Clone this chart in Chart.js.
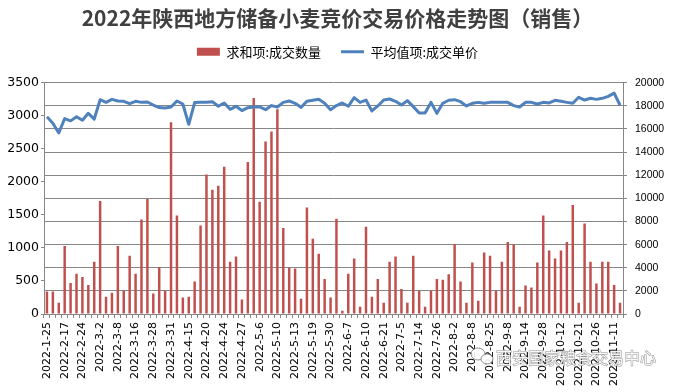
<!DOCTYPE html>
<html>
<head>
<meta charset="utf-8">
<script src="https://cdn.jsdelivr.net/npm/chart.js@4.4.1/dist/chart.umd.min.js"></script>
<style>
  html, body { margin: 0; padding: 0; background: #fff; }
</style>
</head>
<body>
<canvas id="grafico" width="675" height="392"></canvas>
<script>
// Labels visible on the x axis (one every 3 trading days)
const tickLabels = ["2022-1-25", "2022-2-17", "2022-2-24", "2022-3-2", "2022-3-8", "2022-3-16", "2022-3-28",
    "2022-3-31", "2022-4-15", "2022-4-20", "2022-4-24", "2022-4-27", "2022-5-6", "2022-5-10", "2022-5-13",
    "2022-5-19", "2022-5-30", "2022-6-7", "2022-6-10", "2022-6-21", "2022-7-5", "2022-7-14", "2022-7-26",
    "2022-8-2", "2022-8-8", "2022-8-25", "2022-9-8", "2022-9-14", "2022-9-28", "2022-10-12", "2022-10-21",
    "2022-10-26", "2022-11-11"];

// 求和项:成交数量 (left axis)
const quantity = [340, 340, 170, 1030, 470, 610, 560, 440, 790, 1710,
    260, 320, 1030, 350, 880, 610, 1430, 1740, 310, 710,
    350, 2900, 1490, 250, 260, 490, 1340, 2110, 1880, 1940,
    2230, 790, 870, 220, 2300, 3270, 1700, 2610, 2760, 3100,
    1300, 700, 690, 230, 1610, 1140, 910, 530, 250, 1440,
    50, 610, 840, 110, 1320, 260, 530, 170, 790, 870,
    380, 170, 880, 350, 110, 350, 530, 520, 600, 1060,
    490, 170, 780, 200, 930, 880, 350, 790, 1090, 1050,
    110, 430, 400, 780, 1490, 960, 840, 960, 1090, 1650,
    170, 1370, 790, 460, 790, 790, 440, 170];

// 平均值项:成交单价 (right axis)
const price = [17050, 16500, 15650, 16900, 16700, 17050, 16750, 17350, 16850, 18530,
    18300, 18560, 18420, 18390, 18190, 18390, 18300, 18330, 18070, 17850,
    17820, 17900, 18420, 18160, 16400, 18280, 18300, 18300, 18360, 17960,
    18250, 17700, 17960, 17590, 17840, 17900, 17900, 17670, 18020, 17900,
    18300, 18420, 18220, 17870, 18390, 18480, 18560, 18220, 17670, 18020,
    18250, 17960, 18710, 18300, 18500, 17560, 17990, 18500, 18590, 18390,
    18070, 18450, 17930, 17380, 17380, 18300, 17350, 18220, 18480, 18530,
    18360, 17990, 18220, 18300, 18220, 18300, 18300, 18300, 18300, 18020,
    17900, 18300, 18300, 18160, 18300, 18250, 18480, 18390, 18300, 18220,
    18740, 18500, 18650, 18560, 18650, 18820, 19100, 18050];

const categories = quantity.map((v, i) => i % 3 === 0 ? tickLabels[i / 3] : "");

const gridColor = "#878787";

// empty band between the legend and the plot area
const spacer = {
    id: "spacer",
    beforeInit(chart) {
        Chart.layouts.addBox(chart, {
            position: "top",
            weight: 500,
            fullSize: true,
            options: {},
            top: 0, left: 0, right: 0, bottom: 0, width: 0, height: 14.5,
            isHorizontal: () => true,
            update(maxWidth) { this.width = maxWidth; this.height = 14.5; },
            draw() {}
        });
    }
};

// faint watermark in the bottom right corner
const watermark = {
    id: "watermark",
    afterDraw(chart) {
        const c = chart.ctx;
        c.save();
        c.lineWidth = 1;
        c.strokeStyle = "rgba(110,110,110,0.75)";
        c.fillStyle = "rgba(255,255,255,0.9)";
        c.beginPath();
        c.ellipse(478, 354, 7, 6, 0, 0, Math.PI * 2);
        c.fill(); c.stroke();
        c.beginPath();
        c.ellipse(487, 359, 6, 5, 0, 0, Math.PI * 2);
        c.fill(); c.stroke();
        c.font = "16px 'Noto Sans CJK SC'";
        c.textAlign = "left";
        c.textBaseline = "middle";
        c.strokeText("西安国家粮食交易中心", 496, 358);
        c.fillText("西安国家粮食交易中心", 496, 358);
        c.restore();
    }
};

const ctx = document.getElementById("grafico").getContext("2d");

new Chart(ctx, {
    data: {
        labels: categories,
        datasets: [{
            type: "bar",
            label: "求和项:成交数量",
            data: quantity,
            yAxisID: "y",
            backgroundColor: "#C0504D",
            barPercentage: 0.42,
            categoryPercentage: 1,
            order: 2
        }, {
            type: "line",
            label: "平均值项:成交单价",
            data: price,
            yAxisID: "y1",
            borderColor: "#4F81BD",
            backgroundColor: "#4F81BD",
            borderWidth: 3,
            borderJoinStyle: "round",
            pointRadius: 0,
            tension: 0,
            order: 1
        }]
    },
    options: {
        responsive: false,
        animation: false,
        devicePixelRatio: 1,
        layout: { padding: 0 },
        plugins: {
            title: {
                display: true,
                text: "2022年陕西地方储备小麦竞价交易价格走势图（销售）",
                color: "#404040",
                font: { family: "'Noto Sans CJK SC'", size: 21, weight: "bold" },
                padding: { top: 5, bottom: -5 }
            },
            legend: {
                labels: {
                    usePointStyle: true,
                    pointStyleWidth: 23,
                    boxHeight: 8,
                    padding: 20,
                    color: "#000",
                    font: { family: "'Noto Sans CJK SC'", size: 13 },
                    sort: (a, b) => a.datasetIndex - b.datasetIndex,
                    generateLabels: chart => Chart.defaults.plugins.legend.labels.generateLabels(chart)
                        .map(item => ({ ...item, pointStyle: item.datasetIndex === 0 ? "rect" : "line" }))
                }
            },
            tooltip: { enabled: false }
        },
        scales: {
            x: {
                offset: true,
                grid: { offset: true, drawOnChartArea: false, tickLength: 4, color: gridColor },
                border: { color: gridColor },
                ticks: {
                    autoSkip: false,
                    maxRotation: 90,
                    minRotation: 90,
                    padding: 4,
                    color: "#000",
                    font: { family: "'DejaVu Sans'", size: 11 }
                },
                afterFit: s => { s.height = 78; }
            },
            y: {
                position: "left",
                min: 0,
                max: 3500,
                ticks: {
                    stepSize: 500, padding: 2, color: "#000",
                    font: { family: "'DejaVu Sans'", size: 12.5 },
                    callback: v => String(v)
                },
                grid: { drawOnChartArea: false, tickLength: 3, color: gridColor },
                border: { color: gridColor },
                afterFit: s => { s.width = 44; }
            },
            y1: {
                position: "right",
                min: 0,
                max: 20000,
                ticks: {
                    stepSize: 2000, padding: 8, color: "#000",
                    font: { family: "'Liberation Sans'", size: 10.5 },
                    callback: v => String(v)
                },
                grid: { color: gridColor, tickLength: 4 },
                border: { color: gridColor },
                afterFit: s => { s.width = 52; }
            }
        }
    },
    plugins: [spacer, watermark]
});
</script>
</body>
</html>
